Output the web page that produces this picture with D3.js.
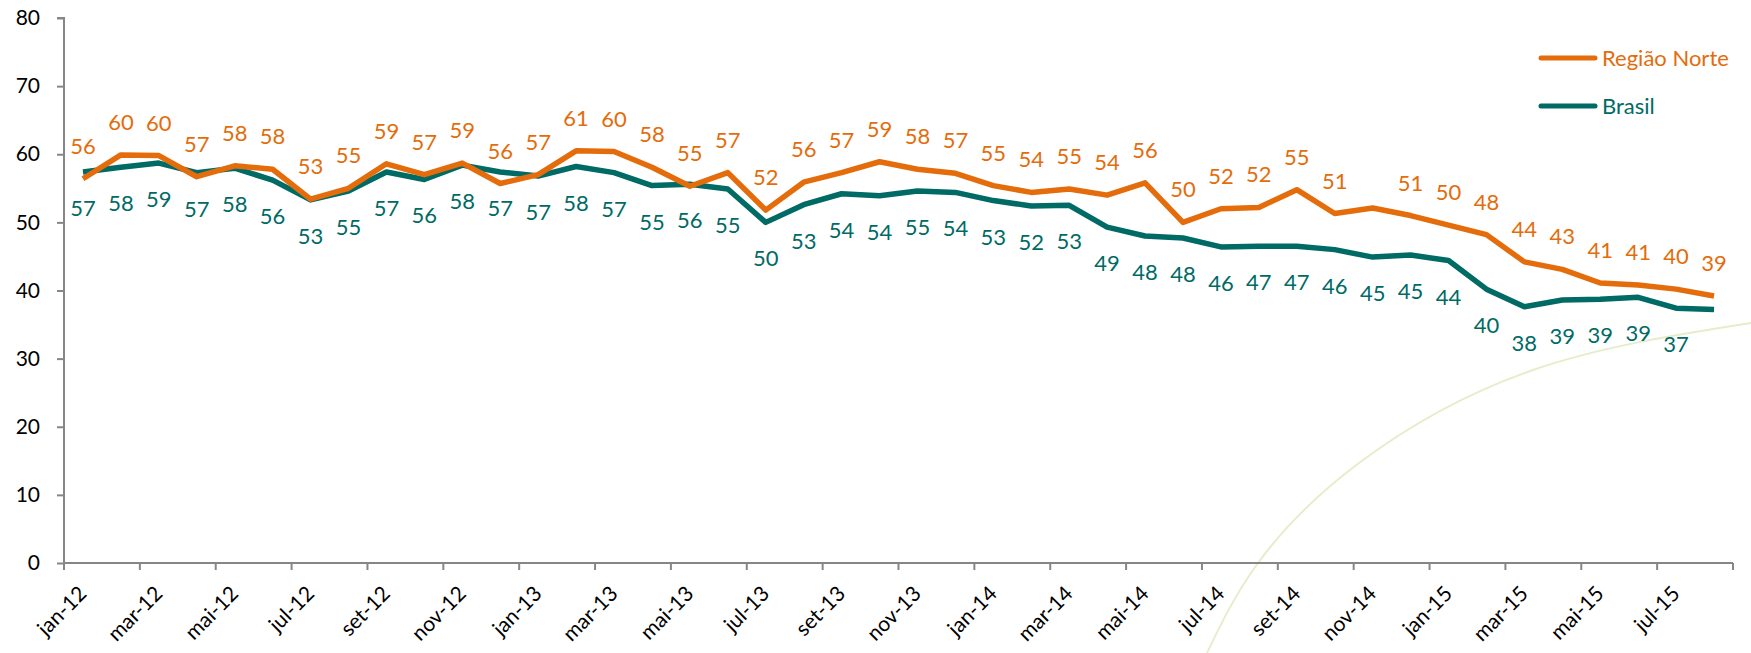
<!DOCTYPE html>
<html>
<head>
<meta charset="utf-8">
<script src="https://cdn.jsdelivr.net/npm/d3@7"></script>
<style>
    body { margin: 0; background: #ffffff; }
    svg text { font-family: Lato, "Open Sans", sans-serif; }
</style>
</head>
<body>
<div id="chart"><svg></svg></div>
<script>
// months, jan-12 .. ago-15
var categories = [
    "jan-12", "fev-12", "mar-12", "abr-12", "mai-12", "jun-12", "jul-12", "ago-12", "set-12", "out-12", "nov-12", "dez-12",
    "jan-13", "fev-13", "mar-13", "abr-13", "mai-13", "jun-13", "jul-13", "ago-13", "set-13", "out-13", "nov-13", "dez-13",
    "jan-14", "fev-14", "mar-14", "abr-14", "mai-14", "jun-14", "jul-14", "ago-14", "set-14", "out-14", "nov-14", "dez-14",
    "jan-15", "fev-15", "mar-15", "abr-15", "mai-15", "jun-15", "jul-15", "ago-15"
];

var norte = [
    56.4, 59.9, 59.8, 56.7, 58.3, 57.8, 53.4, 55.0, 58.6, 57.0, 58.7, 55.7,
    57.0, 60.5, 60.4, 58.1, 55.3, 57.3, 51.8, 55.9, 57.3, 58.9, 57.8, 57.2,
    55.4, 54.4, 54.9, 54.0, 55.8, 50.0, 52.0, 52.2, 54.8, 51.3, 52.1, 51.0,
    49.6, 48.2, 44.2, 43.1, 41.1, 40.8, 40.2, 39.2
];

var brasil = [
    57.4, 58.1, 58.7, 57.3, 57.96, 56.2, 53.3, 54.6, 57.4, 56.3, 58.4, 57.4,
    56.8, 58.2, 57.3, 55.4, 55.6, 54.9, 50.0, 52.6, 54.2, 53.9, 54.6, 54.4,
    53.2, 52.4, 52.5, 49.3, 48.0, 47.7, 46.4, 46.5, 46.5, 46.0, 44.9, 45.2,
    44.4, 40.2, 37.6, 38.6, 38.7, 39.0, 37.4, 37.2
];

// points without a data label in the original
var norteHidden = ["nov-14"];
var brasilHidden = ["ago-15"];

var yTicks = [0, 10, 20, 30, 40, 50, 60, 70, 80];

var seriesNames = ["Região Norte", "Brasil"];
var colors = ["#E46C0A", "#006A65"];

var width = 1751, height = 653;
var margin = { top: 18, right: 18, bottom: 90, left: 64 };

var svg = d3.select("#chart svg").attr("width", width).attr("height", height);

var x = d3.scaleBand()
    .domain(categories)
    .range([margin.left, width - margin.right])
    .padding(0);

var y = d3.scaleLinear()
    .domain([0, 80])
    .range([height - margin.bottom, margin.top]);

var cx = function(d) { return x(d) + x.bandwidth() / 2; };

// faint decorative arc from the slide background
var arcPts = [[1207, 653], [1258, 563], [1359, 463], [1533, 370], [1751, 323]];
svg.append("path")
    .attr("d", d3.line().curve(d3.curveNatural)(arcPts))
    .style("fill", "none")
    .style("stroke", "#E6EDCB")
    .style("stroke-width", 2);

// y axis
var yAxis = svg.append("g")
    .attr("class", "y axis")
    .attr("transform", "translate(" + margin.left + ",0)")
    .call(d3.axisLeft(y).tickValues(yTicks).tickSize(7).tickPadding(17));
yAxis.selectAll("path, line").style("stroke", "#868686").style("stroke-width", 2);
yAxis.select(".domain").attr("d", "M-7," + y(80) + "H0V" + y(0));
yAxis.selectAll("text")
    .style("font-size", "21px")
    .style("fill", "#000000")
    .style("font-family", "Lato, sans-serif");

// x axis: baseline, ticks every two months on the category edges
var xg = svg.append("g").attr("class", "x axis");
xg.append("line")
    .attr("x1", margin.left).attr("x2", width - margin.right)
    .attr("y1", y(0)).attr("y2", y(0))
    .style("stroke", "#868686").style("stroke-width", 2);

var tickCats = categories.filter(function(d, i) { return i % 2 == 0; });
var tickX = tickCats.map(function(d) { return x(d); }).concat([x.range()[1]]);

xg.selectAll("line.tick")
    .data(tickX)
    .enter().append("line")
    .attr("class", "tick")
    .attr("x1", function(d) { return d; }).attr("x2", function(d) { return d; })
    .attr("y1", y(0)).attr("y2", y(0) + 7)
    .style("stroke", "#868686").style("stroke-width", 2);

xg.selectAll("text")
    .data(tickCats)
    .enter().append("text")
    .attr("transform", function(d) {
        return "translate(" + (cx(d) + 5) + "," + (y(0) + 32) + ") rotate(-45)";
    })
    .attr("text-anchor", "end")
    .style("font-size", "21px")
    .style("fill", "#000000")
    .text(function(d) { return d; });

// lines
var line = d3.line()
    .x(function(d, i) { return cx(categories[i]); })
    .y(function(d) { return y(d); });

svg.append("path")
    .datum(brasil)
    .attr("d", line)
    .style("fill", "none")
    .style("stroke", colors[1])
    .style("stroke-width", 5.5)
    .style("stroke-linejoin", "round");

svg.append("path")
    .datum(norte)
    .attr("d", line)
    .style("fill", "none")
    .style("stroke", colors[0])
    .style("stroke-width", 5.5)
    .style("stroke-linejoin", "round");

// data labels: Norte above the line, Brasil below
function labelData(values, hidden) {
    return values.map(function(v, i) { return { v: v, c: categories[i] }; })
        .filter(function(d) { return hidden.indexOf(d.c) < 0; });
}

svg.append("g").selectAll("text")
    .data(labelData(norte, norteHidden))
    .enter().append("text")
    .attr("x", function(d) { return cx(d.c); })
    .attr("y", function(d) { return y(d.v) - 25; })
    .attr("text-anchor", "middle")
    .style("font-size", "22px")
    .style("fill", colors[0])
    .text(function(d) { return Math.round(d.v); });

svg.append("g").selectAll("text")
    .data(labelData(brasil, brasilHidden))
    .enter().append("text")
    .attr("x", function(d) { return cx(d.c); })
    .attr("y", function(d) { return y(d.v) + 44; })
    .attr("text-anchor", "middle")
    .style("font-size", "22px")
    .style("fill", colors[1])
    .text(function(d) { return Math.round(d.v); });

// legend
var legend = svg.append("g").attr("class", "legend");
seriesNames.forEach(function(name, i) {
    var ly = 58 + i * 48;
    legend.append("line")
        .attr("x1", 1541).attr("x2", 1595)
        .attr("y1", ly).attr("y2", ly)
        .style("stroke", colors[i])
        .style("stroke-width", 5)
        .style("stroke-linecap", "round");
    legend.append("text")
        .attr("x", 1602).attr("y", ly + 8)
        .style("font-size", "22px")
        .style("fill", colors[i])
        .text(name);
});
</script>
</body>
</html>
